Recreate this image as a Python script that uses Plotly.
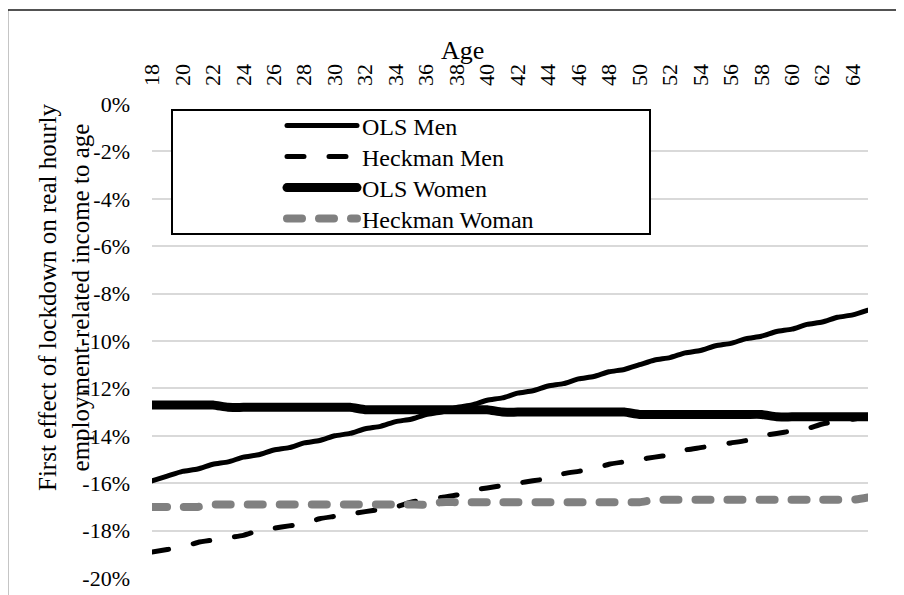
import plotly.graph_objects as go

# ---------------- data ----------------
ages = [18, 19, 20, 21, 22, 23, 24, 25, 26, 27, 28, 29, 30, 31, 32, 33, 34, 35, 36, 37, 38, 39, 40, 41,
        42, 43, 44, 45, 46, 47, 48, 49, 50, 51, 52, 53, 54, 55, 56, 57, 58, 59, 60, 61, 62, 63, 64, 65]

ols_men = [-15.9, -15.7, -15.5, -15.4, -15.2, -15.1, -14.9, -14.8, -14.6, -14.5, -14.3, -14.2,
           -14.0, -13.9, -13.7, -13.6, -13.4, -13.3, -13.1, -13.0, -12.8, -12.7, -12.5, -12.4,
           -12.2, -12.1, -11.9, -11.8, -11.6, -11.5, -11.3, -11.2, -11.0, -10.8, -10.7, -10.5,
           -10.4, -10.2, -10.1, -9.9, -9.8, -9.6, -9.5, -9.3, -9.2, -9.0, -8.9, -8.7]

heckman_men = [-18.9, -18.8, -18.7, -18.5, -18.4, -18.3, -18.2, -18.0, -17.9, -17.8, -17.7, -17.5,
               -17.4, -17.3, -17.2, -17.1, -17.0, -16.8, -16.7, -16.6, -16.5, -16.3, -16.2, -16.1,
               -16.0, -15.9, -15.8, -15.6, -15.5, -15.4, -15.2, -15.1, -15.0, -14.9, -14.8, -14.6,
               -14.5, -14.4, -14.3, -14.2, -14.0, -13.9, -13.8, -13.7, -13.5, -13.4, -13.3, -13.2]

ols_women = [-12.7, -12.7, -12.7, -12.7, -12.7, -12.8, -12.8, -12.8, -12.8, -12.8, -12.8, -12.8,
             -12.8, -12.8, -12.9, -12.9, -12.9, -12.9, -12.9, -12.9, -12.9, -12.9, -12.9, -13.0,
             -13.0, -13.0, -13.0, -13.0, -13.0, -13.0, -13.0, -13.0, -13.1, -13.1, -13.1, -13.1,
             -13.1, -13.1, -13.1, -13.1, -13.1, -13.2, -13.2, -13.2, -13.2, -13.2, -13.2, -13.2]

heckman_woman = [-17.0, -17.0, -17.0, -17.0, -16.9, -16.9, -16.9, -16.9, -16.9, -16.9, -16.9, -16.9,
                 -16.9, -16.9, -16.9, -16.9, -16.9, -16.9, -16.9, -16.8, -16.8, -16.8, -16.8, -16.8,
                 -16.8, -16.8, -16.8, -16.8, -16.8, -16.8, -16.8, -16.8, -16.8, -16.7, -16.7, -16.7,
                 -16.7, -16.7, -16.7, -16.7, -16.7, -16.7, -16.7, -16.7, -16.7, -16.7, -16.7, -16.6]

series_names = ["OLS Men", "Heckman Men", "OLS Women", "Heckman Woman"]

x_tickvals = [18, 20, 22, 24, 26, 28, 30, 32, 34, 36, 38, 40, 42, 44, 46, 48, 50, 52, 54, 56, 58, 60, 62, 64]
x_ticktext = ["18", "20", "22", "24", "26", "28", "30", "32", "34", "36", "38", "40", "42", "44",
              "46", "48", "50", "52", "54", "56", "58", "60", "62", "64"]
y_tickvals = [0, -2, -4, -6, -8, -10, -12, -14, -16, -18, -20]
y_ticktext = ["0%", "-2%", "-4%", "-6%", "-8%", "-10%", "-12%", "-14%", "-16%", "-18%", "-20%"]

x_title = "Age"
y_title = "First effect of lockdown on real hourly<br>employment-related income to age"

# ---------------- figure ----------------
FONT = "Liberation Serif, Times New Roman, serif"
OFF = 8  # page body margin: target (page) pixel -> figure pixel

styles = [
    dict(color="#000000", width=5, dash="solid"),
    dict(color="#000000", width=5, dash="17px,25px"),
    dict(color="#000000", width=9, dash="solid"),
    dict(color="#808080", width=8, dash="15px,17px"),
]
data_series = [ols_men, heckman_men, ols_women, heckman_woman]
legend_ids = ["legend", "legend2", "legend3", "legend4"]
legend_rows = [126, 157, 188, 219]  # page-pixel centres of the legend rows

W, H = 904, 595
L, R, T, B = 152 - OFF, 904 - (868 - OFF), 104 - OFF, 595 - (578 - OFF)
pw, ph = W - L - R, H - T - B


def px(xp):
    return (xp - OFF - L) / pw


def py(yp):
    return (H - B - (yp - OFF)) / ph


fig = go.Figure()
for name, vals, st, lg in zip(series_names, data_series, styles, legend_ids):
    fig.add_trace(go.Scatter(
        x=ages, y=vals, name=name, mode="lines", legend=lg,
        line=dict(color=st["color"], width=st["width"], dash=st["dash"],
                  shape="spline", smoothing=0.6),
        hoverinfo="skip",
    ))

legends = {}
for lg, row in zip(legend_ids, legend_rows):
    legends[lg] = dict(
        x=px(282), y=py(row), xanchor="left", yanchor="middle",
        bgcolor="rgba(0,0,0,0)", borderwidth=0,
        font=dict(family=FONT, size=24, color="#000000"),
        itemwidth=70,
    )

fig.update_layout(
    width=W, height=H,
    margin=dict(l=L, r=R, t=T, b=B, pad=0),
    paper_bgcolor="white", plot_bgcolor="white",
    font=dict(family=FONT, color="#000000", size=22),
    showlegend=True,
    xaxis=dict(
        range=[18, 65], side="top", tickmode="array",
        tickvals=x_tickvals, ticktext=x_ticktext, tickangle=-90,
        showgrid=False, zeroline=False, showline=False, ticks="",
        ticklabelstandoff=17,
        tickfont=dict(family=FONT, size=22, color="#000000"),
        fixedrange=True,
    ),
    yaxis=dict(
        range=[-20, 0], tickmode="array",
        tickvals=y_tickvals, ticktext=y_ticktext,
        showgrid=True, gridcolor="#d9d9d9", gridwidth=1.5,
        zeroline=False, showline=False, ticks="",
        ticklabelstandoff=21,
        tickfont=dict(family=FONT, size=22, color="#000000"),
        fixedrange=True,
    ),
    shapes=[
        # outer chart frame
        dict(type="rect", xref="paper", yref="paper",
             x0=px(7.5), x1=px(W + 30), y0=py(H + 30), y1=py(10),
             line=dict(color="#1a1a1a", width=1.5), fillcolor="rgba(0,0,0,0)", layer="above"),
        # legend box
        dict(type="rect", xref="paper", yref="paper",
             x0=px(172), x1=px(650), y0=py(234), y1=py(110),
             line=dict(color="#000000", width=2), fillcolor="white", layer="above"),
    ],
    annotations=[
        dict(text=x_title, xref="paper", yref="paper", x=px(462), y=py(50),
             xanchor="center", yanchor="middle", showarrow=False,
             font=dict(family=FONT, size=26, color="#000000")),
        dict(text=y_title, xref="paper", yref="paper", x=px(64), y=py(298),
             xanchor="center", yanchor="middle", showarrow=False, textangle=-90,
             align="center", font=dict(family=FONT, size=25, color="#000000")),
    ],
    **legends,
)

post = """
var gd = document.getElementById('{plot_id}');
function rc(){
  gd.querySelectorAll('path.js-line, .legendlines path').forEach(function(p){
    p.style.strokeLinecap = 'round'; p.style.strokeLinejoin = 'round';
  });
}
rc();
gd.on('plotly_afterplot', rc);
"""

fig.write_html("out.html", config={"displayModeBar": False}, post_script=post)
